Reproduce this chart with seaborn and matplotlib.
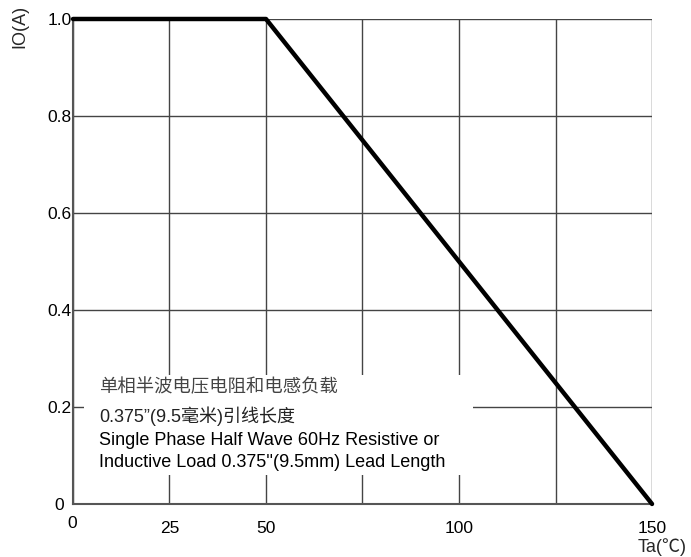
import numpy as np
import pandas as pd
import matplotlib
matplotlib.use('Agg')
import matplotlib.pyplot as plt
import matplotlib.transforms as mtransforms
from matplotlib.patches import Rectangle
import seaborn as sns

# derating curve
temp = [0, 50, 150]
current = [1.0, 1.0, 0.0]

x_ticks = [0, 25, 50, 75, 100, 125, 150]
x_labels = ['0', '25', '50', '', '100', '', '150']
y_ticks = [0, 0.2, 0.4, 0.6, 0.8, 1.0]
y_labels = ['0', '0.2', '0.4', '0.6', '0.8', '1.0']

note_cn = ['单相半波电压电阻和电感负载', '0.375”(9.5毫米)引线长度']
note_en = ['Single Phase Half Wave 60Hz Resistive or',
           "Inductive Load 0.375''(9.5mm) Lead Length"]

sns.set_style('white')
plt.rcParams['font.family'] = ['Liberation Sans', 'Noto Sans CJK SC', 'DejaVu Sans']

fig = plt.figure(figsize=(6.91, 5.57), dpi=100)
ax = fig.add_axes([0.1056, 0.0952, 0.838, 0.8707])

df = pd.DataFrame({'Ta': temp, 'IO': current})
sns.lineplot(data=df, x='Ta', y='IO', ax=ax, color='black', linewidth=3.2,
             zorder=5, clip_on=False)

ax.set_xlim(0, 150)
ax.set_ylim(0, 1.0)
ax.set_xticks(x_ticks)
ax.set_xticklabels(x_labels, fontsize=12.5)
ax.set_yticks(y_ticks)
ax.set_yticklabels(y_labels, fontsize=12.5)
ax.tick_params(axis='both', length=0, colors='black')
ax.tick_params(axis='x', pad=12)
ax.tick_params(axis='y', pad=1)

# "0" on the x axis sits a bit higher and left
lab0 = ax.get_xticklabels()[0]
lab0.set_transform(lab0.get_transform() +
                   mtransforms.ScaledTranslation(-1 / 100, 5 / 100, fig.dpi_scale_trans))
# "0" on the y axis sits further left
ylab0 = ax.get_yticklabels()[0]
ylab0.set_transform(ylab0.get_transform() +
                    mtransforms.ScaledTranslation(-8 / 100, 0, fig.dpi_scale_trans))

ax.grid(True, color='#444444', linewidth=1.0)
ax.set_axisbelow(True)
for side in ['top', 'right']:
    ax.spines[side].set_visible(False)
for side in ['left', 'bottom']:
    ax.spines[side].set_color('#555555')
    ax.spines[side].set_linewidth(1.5)

ax.set_xlabel('')
ax.set_ylabel('')
fig.text(0.958, 0.002, 'Ta(℃)', fontsize=13, ha='center', va='bottom')
fig.text(0.016, 0.992, 'IO(A)', fontsize=13, rotation=90, ha='left', va='top')

# white box behind the note
ax.add_patch(Rectangle((2.85, 0.06), 100.8, 0.206, facecolor='white',
                       edgecolor='none', zorder=2))
ax.text(6.8, 0.240, note_cn[0], fontsize=13.2, color='#444444', va='center', zorder=3,
        family=['Noto Sans CJK SC', 'DejaVu Sans'])
ax.text(6.8, 0.180, note_cn[1], fontsize=13, color='#222222', va='center', zorder=3,
        family=['Liberation Sans', 'Noto Sans CJK SC', 'DejaVu Sans'])
ax.text(6.8, 0.130, note_en[0], fontsize=13, color='black', va='center', zorder=3)
ax.text(6.8, 0.085, note_en[1], fontsize=13, color='black', va='center', zorder=3)

fig.savefig('out.png', dpi=100)
